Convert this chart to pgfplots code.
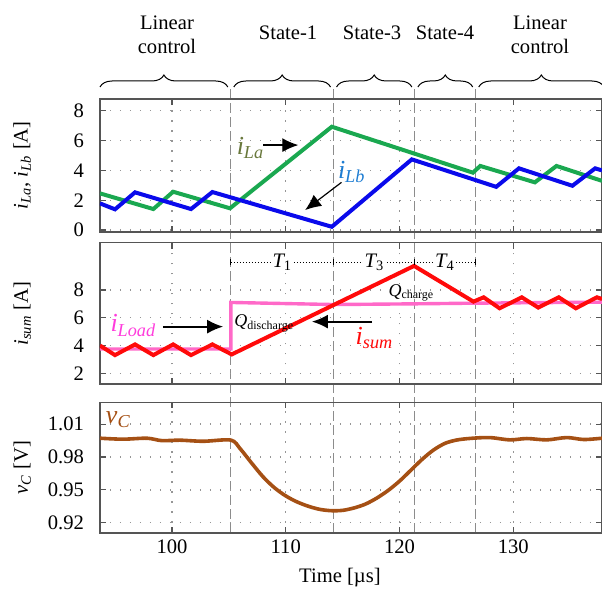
\documentclass[border=0pt]{standalone}
\usepackage{fontspec}
\setmainfont{Liberation Serif}
\usepackage{pgfplots}
\pgfplotsset{compat=1.18}
\usetikzlibrary{arrows.meta,decorations.pathreplacing,calc}
\pgfdeclarelayer{background}
\pgfsetlayers{background,main}

\definecolor{cLa}{RGB}{26,168,80}
\definecolor{cLb}{RGB}{10,10,235}
\definecolor{cSum}{RGB}{255,10,10}
\definecolor{cLoad}{RGB}{255,105,200}
\definecolor{cLoadTxt}{RGB}{255,60,220}
\definecolor{cVc}{RGB}{165,80,20}
\definecolor{cLaTxt}{RGB}{105,120,60}
\definecolor{cLbTxt}{RGB}{30,125,210}
\definecolor{framec}{RGB}{85,85,85}
\definecolor{gridc}{RGB}{150,150,150}
\definecolor{dashc}{RGB}{140,140,140}

\newcommand{\var}[2]{{\itshape #1}\textsubscript{\itshape #2}}
\newcommand{\lblfont}{\fontsize{13}{15}\selectfont}

\tikzset{arr/.style={-{Latex[length=8pt,width=7pt]}, line width=0.6pt}}

\pgfplotsset{
  panel/.style={
    scale only axis, width=251pt,
    xmin=93.67, xmax=137.8,
    xtick={100,110,120,130},
    grid=major,
    major grid style={gridc, line width=0.7pt, dash pattern=on 0.7pt off 4.3pt},
    axis line style={framec, line width=0.8pt},
    tick align=inside, major tick length=3pt,
    tick style={framec, line width=0.6pt},
    /pgf/number format/assume math mode=true,
    yticklabel style={xshift=-4.5pt},
    every axis y label/.style={at={(axis description cs:-0.155,0.5)}, rotate=90, anchor=center},
    anchor=north west,
  },
}

\begin{document}
\begin{tikzpicture}[font=\fontsize{10.3}{12}\selectfont]
\useasboundingbox (0,0) rectangle (301pt,-297pt);

% panel 1: inductor currents
\begin{axis}[panel, at={(50pt,-49.5pt)}, height=66.35pt,
  ymin=-0.11, ymax=8.79, ytick={0,2,4,6,8}, xticklabels={},
  ylabel={\var{i}{La}, \var{i}{Lb} [A]}]
\addplot[cLa, line width=2pt] coordinates {
  (93.67,2.46) (98.36,1.41) (100.1,2.57) (105.1,1.46) (114.05,6.93)
  (126.45,3.85) (127.1,4.3) (131.9,3.2) (133.8,4.3) (137.8,3.3)};
\addplot[cLb, line width=2pt] coordinates {
  (93.67,1.79) (94.99,1.39) (96.75,2.53) (101.67,1.41) (103.55,2.55)
  (114.05,0.22) (121.08,4.74) (128.5,2.9) (130.5,4.14) (135.2,2.97)
  (137.2,4.14) (137.8,4.0)};
\node[cLaTxt, font=\lblfont] at (axis cs:106.9,5.5) {\var{i}{La}};
\draw[arr] (axis cs:108.0,5.7) -- (axis cs:111.1,5.7);
\node[cLbTxt, font=\lblfont] at (axis cs:115.8,3.9) {\var{i}{Lb}};
\draw[arr] (axis cs:114.9,3.2) -- (axis cs:111.7,1.34);
\end{axis}

% panel 2: sum current and load current
\begin{axis}[panel, at={(50pt,-121.35pt)}, height=70.8pt,
  ymin=1.21, ymax=11.4, ytick={2,4,6,8}, xticklabels={},
  ylabel={\var{i}{sum} [A]}]
\addplot[cLoad, line width=1.7pt] coordinates {
  (93.67,3.75) (105.17,3.75) (105.17,7.1) (114.2,6.95) (121.3,7.0)
  (126.7,7.05) (137.8,7.12)};
\addplot[cSum, line width=2pt] coordinates {
  (93.67,4.0) (94.99,3.31) (96.75,4.08) (98.36,3.31) (100.1,4.08)
  (101.67,3.31) (103.55,4.08) (105.25,3.36) (121.28,9.73) (126.5,7.16)
  (127.4,7.47) (128.8,6.68) (130.75,7.47) (132.2,6.73) (134.0,7.47)
  (135.5,6.68) (137.35,7.47) (137.8,7.35)};
\draw[densely dotted, line width=0.5pt] (axis cs:105.17,10) -- (axis cs:126.7,10);
\draw[line width=0.5pt] (axis cs:105.17,9.8) -- (axis cs:105.17,10.2);
\draw[line width=0.5pt] (axis cs:114.2,9.8) -- (axis cs:114.2,10.2);
\draw[line width=0.5pt] (axis cs:121.35,9.8) -- (axis cs:121.35,10.2);
\draw[line width=0.5pt] (axis cs:126.7,9.8) -- (axis cs:126.7,10.2);
\node[fill=white, inner sep=0.6pt] at (axis cs:109.7,10) {\var{T}{\upshape 1}};
\node[fill=white, inner sep=0.6pt] at (axis cs:117.8,10) {\var{T}{\upshape 3}};
\node[fill=white, inner sep=0.6pt] at (axis cs:124.0,10) {\var{T}{\upshape 4}};
\node[anchor=west, inner sep=0pt, font=\fontsize{9}{10}\selectfont] at (axis cs:105.45,5.6) {{\itshape Q}\textsubscript{discharge}};
\node[anchor=west, inner sep=0pt, font=\fontsize{9}{10}\selectfont] at (axis cs:119.0,7.8) {{\itshape Q}\textsubscript{charge}};
\node[cLoadTxt, font=\lblfont] at (axis cs:96.6,5.45) {\var{i}{Load}};
\draw[arr, line width=0.9pt] (axis cs:99.2,5.36) -- (axis cs:104.5,5.36);
\draw[arr, line width=0.9pt] (axis cs:117.6,5.72) -- (axis cs:112.3,5.72);
\node[cSum, font=\lblfont] at (axis cs:117.8,4.55) {\var{i}{sum}};
\end{axis}

% panel 3: capacitor voltage
\begin{axis}[panel, at={(50pt,-201.15pt)}, height=65.2pt,
  ymin=0.9109, ymax=1.030, ytick={0.92,0.95,0.98,1.01},
  yticklabel style={/pgf/number format/.cd, fixed, fixed zerofill, precision=2},
  ylabel={\var{v}{C} [V]},
  xlabel={Time [µs]},
  xlabel style={at={(axis description cs:0.478,-0.345)}, anchor=center}]
\addplot[cVc, line width=1.8pt, smooth, tension=0.5] coordinates {
  (93.67,0.9972) (95.7,0.9963) (97.8,0.9972) (99.1,0.9950) (100.7,0.9954)
  (102.75,0.9944) (105.17,0.9955) (106.0,0.9875) (107.0,0.9745)
  (108.0,0.9620) (109.0,0.9520) (110.0,0.9445) (111.0,0.9390)
  (112.0,0.9350) (113.0,0.9322) (114.0,0.9310) (115.0,0.9313)
  (116.0,0.9335) (117.0,0.9370) (118.0,0.9425) (119.0,0.9495)
  (120.0,0.9580) (121.0,0.9680) (122.0,0.9780) (123.0,0.9865)
  (124.0,0.9925) (125.0,0.9955) (126.2,0.9970)
  (127.9,0.9978) (129.7,0.9957) (131.2,0.9969) (132.96,0.9957)
  (134.7,0.9978) (136.2,0.9960) (137.8,0.9972)};
\node[cVc, font=\lblfont] at (axis cs:95.28,1.0145) {\var{v}{C}};
\coordinate (d1) at (axis cs:105.17,0.9109);
\coordinate (d2) at (axis cs:114.2,0.9109);
\coordinate (d3) at (axis cs:121.35,0.9109);
\coordinate (d4) at (axis cs:126.7,0.9109);
\end{axis}

% state separators
\begin{pgfonlayer}{background}
\foreach \d in {d1,d2,d3,d4}
  \draw[dashc, line width=0.6pt, dash pattern=on 5pt off 2pt] (\d) -- (\d |- 0,-42.5pt);
\end{pgfonlayer}

% braces and state names
\begin{scope}[decoration={brace, amplitude=6pt}, line width=0.5pt]
\draw[decorate] (50pt,-43.5pt) -- ($(d1 |- 0,-43.5pt)+(-1.5pt,0)$);
\draw[decorate] ($(d1 |- 0,-43.5pt)+(1.5pt,0)$) -- ($(d2 |- 0,-43.5pt)+(-1.5pt,0)$);
\draw[decorate] ($(d2 |- 0,-43.5pt)+(1.5pt,0)$) -- ($(d3 |- 0,-43.5pt)+(-1.5pt,0)$);
\draw[decorate] ($(d3 |- 0,-43.5pt)+(1.5pt,0)$) -- ($(d4 |- 0,-43.5pt)+(-1.5pt,0)$);
\draw[decorate] ($(d4 |- 0,-43.5pt)+(1.5pt,0)$) -- (302pt,-43.5pt);
\end{scope}
\node[align=center] at (83.5pt,-17.5pt) {Linear\\control};
\node at (144pt,-16.5pt) {State-1};
\node at (186pt,-16.5pt) {State-3};
\node at (222.5pt,-16.5pt) {State-4};
\node[align=center] at (270pt,-17.5pt) {Linear\\control};
\end{tikzpicture}
\end{document}
